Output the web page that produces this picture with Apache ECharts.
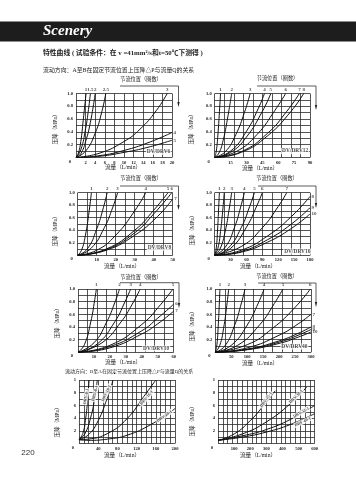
<!DOCTYPE html>
<html>
<head>
<meta charset="utf-8">
<style>
  html, body { margin: 0; padding: 0; background: #fff; }
  #chart { width: 356px; height: 480px; }
</style>
<script src="https://cdn.jsdelivr.net/npm/echarts@6/dist/echarts.min.js"></script>
</head>
<body>
<div id="chart"></div>
<script>
// values: each curve is a list of [flow, pressure]
const drv6Labels = ['1', '1.5', '2', '2.5', '3', '4', '5'];
const drv6Ticks = [2, 4, 6, 8, 10, 12, 14, 16, 18, 20];
const drv6Curves = [
  [[0, 0], [0.5, 0.07], [1, 0.25], [1.5, 0.58], [2.1, 1]],
  [[0, 0], [1, 0.12], [2, 0.45], [2.6, 0.75], [3, 1]],
  [[0, 0], [1, 0.06], [2, 0.25], [3, 0.55], [4, 1]],
  [[0, 0], [2, 0.1], [4, 0.38], [5.4, 0.72], [6.2, 1]],
  [[0, 0], [5, 0.07], [10, 0.25], [13.3, 0.44], [16.7, 0.73], [19, 1]],
  [[0, 0], [5, 0.03], [10, 0.11], [15, 0.23], [20, 0.39]],
  [[0, 0], [5, 0.02], [10, 0.08], [15, 0.16], [20, 0.27]]
];
const drv12Labels = ['1', '2', '3', '4', '5', '6', '7', '8'];
const drv12Ticks = [15, 30, 45, 60, 75, 90];
const drv12Curves = [
  [[0, 0], [1.5, 0.1], [3, 0.35], [4.5, 0.72], [5.5, 1]],
  [[0, 0], [4, 0.07], [8, 0.27], [12, 0.6], [16, 1]],
  [[0, 0], [10, 0.09], [20, 0.36], [28, 0.7], [33.5, 1]],
  [[0, 0], [15, 0.1], [30, 0.41], [41, 0.76], [47, 1]],
  [[0, 0], [15, 0.08], [30, 0.32], [45, 0.72], [53, 1]],
  [[0, 0], [20, 0.09], [40, 0.36], [57, 0.74], [67, 1]],
  [[0, 0], [25, 0.09], [50, 0.38], [68, 0.72], [80, 1]],
  [[0, 0], [25, 0.08], [50, 0.34], [72, 0.72], [84, 1]]
];
const drv8Labels = ['1', '2', '3', '4', '5', '6', '7'];
const drv8Ticks = [10, 20, 30, 40, 50];
const drv8Curves = [
  [[0, 0], [2, 0.08], [4, 0.31], [6, 0.7], [7.2, 1]],
  [[0, 0], [5, 0.1], [10, 0.42], [13.5, 0.76], [15.5, 1]],
  [[0, 0], [7, 0.11], [14, 0.44], [18.5, 0.77], [21, 1]],
  [[0, 0], [10, 0.08], [20, 0.32], [30, 0.71], [35.8, 1]],
  [[0, 0], [15, 0.1], [30, 0.4], [40, 0.72], [47.5, 1]],
  [[0, 0], [15, 0.09], [30, 0.36], [40, 0.66], [49.5, 1]],
  [[0, 0], [15, 0.08], [30, 0.32], [42, 0.62], [50, 0.9]]
];
const drv16Labels = ['1', '2', '3', '4', '5', '6', '7', '8', '9', '10'];
const drv16Ticks = [30, 60, 90, 120, 150, 180];
const drv16Curves = [
  [[0, 0], [3, 0.12], [5.5, 0.42], [7.5, 0.76], [8.8, 1]],
  [[0, 0], [6, 0.11], [11, 0.38], [15, 0.7], [18, 1]],
  [[0, 0], [10, 0.1], [20, 0.39], [27, 0.72], [32, 1]],
  [[0, 0], [20, 0.13], [38, 0.46], [49, 0.77], [56, 1]],
  [[0, 0], [25, 0.11], [50, 0.44], [66, 0.78], [75, 1]],
  [[0, 0], [30, 0.11], [60, 0.45], [80, 0.8], [90, 1]],
  [[0, 0], [50, 0.14], [90, 0.44], [120, 0.78], [136, 1]],
  [[0, 0], [50, 0.08], [100, 0.31], [145, 0.62], [180, 0.94]],
  [[0, 0], [50, 0.06], [100, 0.25], [145, 0.5], [180, 0.76]],
  [[0, 0], [50, 0.05], [100, 0.21], [145, 0.43], [180, 0.66]]
];
const drv10Labels = ['1', '2', '3', '4', '5', '6', '7'];
const drv10Ticks = [10, 20, 30, 40, 50, 60];
const drv10Curves = [
  [[0, 0], [4, 0.12], [8, 0.48], [10.5, 0.83], [11.5, 1]],
  [[0, 0], [10, 0.15], [18, 0.48], [23, 0.78], [26, 1]],
  [[0, 0], [12, 0.13], [23, 0.48], [29.5, 0.8], [33, 1]],
  [[0, 0], [15, 0.15], [27, 0.48], [34, 0.76], [39, 1]],
  [[0, 0], [20, 0.11], [40, 0.44], [52, 0.76], [59.5, 1]],
  [[0, 0], [20, 0.09], [40, 0.34], [50, 0.54], [60, 0.76]],
  [[0, 0], [20, 0.07], [40, 0.29], [50, 0.45], [60, 0.65]]
];
const drv40Labels = ['1', '2', '3', '4', '5', '6', '7', '8', '9', '10'];
const drv40Ticks = [50, 100, 150, 200, 250, 300];
const drv40Curves = [
  [[0, 0], [5, 0.12], [9, 0.4], [12.5, 0.76], [14.5, 1]],
  [[0, 0], [14, 0.11], [26, 0.38], [36, 0.74], [42, 1]],
  [[0, 0], [30, 0.1], [60, 0.42], [82, 0.78], [93, 1]],
  [[0, 0], [50, 0.11], [100, 0.43], [135, 0.78], [153, 1]],
  [[0, 0], [70, 0.11], [140, 0.44], [185, 0.77], [212, 1]],
  [[0, 0], [100, 0.12], [180, 0.38], [250, 0.71], [298, 1]],
  [[0, 0], [100, 0.07], [200, 0.27], [260, 0.45], [300, 0.6]],
  [[0, 0], [100, 0.05], [200, 0.18], [260, 0.3], [300, 0.4]],
  [[0, 0], [100, 0.045], [200, 0.16], [260, 0.27], [300, 0.36]],
  [[0, 0], [100, 0.04], [200, 0.14], [260, 0.24], [300, 0.32]]
];
const smallTicks = [40, 80, 120, 160, 200];
const smallCurves = [
  [[0, 0.6], [8, 1.6], [14, 4], [18, 7], [21, 10]],
  [[0, 0.6], [12, 1.5], [24, 4], [33, 7.2], [38, 10]],
  [[0, 0.6], [20, 1.4], [40, 3.6], [58, 7], [71, 10]],
  [[0, 0.6], [20, 0.7], [60, 1.6], [100, 3.9], [135, 7.4], [160, 10]],
  [[0, 0.6], [20, 0.5], [60, 0.7], [100, 1.3], [150, 3], [200, 5.5]]
];
const smallTags = [['DRV-6-1', 14.5, 7.4, 80], ['DRV-8-1', 33, 7.9, 75], ['DRV-10-1', 57, 7.9, 65], ['DRV-16-1', 141, 7.2, 50], ['DRV-20-1', 178, 4.3, 35]];
const largeTicks = [100, 200, 300, 400, 500, 600];
const largeCurves = [
  [[0, 0.5], [100, 1.5], [200, 3.6], [290, 6.2], [355, 8.3]],
  [[0, 0.5], [150, 1.5], [300, 3.4], [450, 6.3], [550, 8.9]],
  [[0, 0.5], [150, 1.2], [300, 2.2], [450, 3.8], [600, 6]],
  [[0, 0.5], [150, 1], [300, 1.8], [450, 3], [600, 4.7]]
];
const largeTags = [['DRV-25-1', 298, 6.9, 55], ['DRV-30-1', 484, 7.4, 45], ['DRV-32-1', 515, 4.9, 30], ['DRV-40-1', 526, 3.4, 25]];
const smallPressureTicks = { 2: '2', 4: '4', 6: '6', 8: '8', 10: '1' };

const serif = '"Liberation Serif", serif';
const cjk = '"Liberation Serif", "Noto Sans CJK SC", sans-serif';
const ink = '#222';

// one entry per plot, box is left, top, right, bottom in page pixels
const plots = [
  { box: [76, 93.5, 172, 157.5], xMax: 20, cell: 2, ticks: drv6Ticks, labels: drv6Labels, curves: drv6Curves, tag: ['DV/DRV6', 17.2, 0.09] },
  { box: [214.7, 93.5, 310, 157.5], xMax: 90, cell: 9, ticks: drv12Ticks, labels: drv12Labels, curves: drv12Curves, tag: ['DV/DRV12', 76, 0.1] },
  { box: [77.7, 192.7, 172.7, 255.3], xMax: 50, cell: 5, ticks: drv8Ticks, labels: drv8Labels, curves: drv8Curves, tag: ['DV/DRV8', 43, 0.12] },
  { box: [214.7, 192.7, 310, 255.3], xMax: 180, cell: 18, ticks: drv16Ticks, labels: drv16Labels, curves: drv16Curves, tag: ['DV/DRV16', 156, 0.06] },
  { box: [78, 289, 173.7, 352.3], xMax: 60, cell: 6, ticks: drv10Ticks, labels: drv10Labels, curves: drv10Curves, tag: ['DV/DRV10', 49, 0.06] },
  { box: [215.3, 289, 311, 352.3], xMax: 300, cell: 30, ticks: drv40Ticks, labels: drv40Labels, curves: drv40Curves, tag: ['DV/DRV40', 248, 0.09] },
  { box: [79, 380, 175, 443.5], xMax: 200, cell: 10, ticks: smallTicks, yMax: 10, yCell: 1, curves: smallCurves, tags: smallTags },
  { box: [218, 380, 314.7, 443.5], xMax: 600, cell: 30, ticks: largeTicks, yMax: 10, yCell: 1, curves: largeCurves, tags: largeTags }
];

const grid = [], xAxis = [], yAxis = [], series = [];

plots.forEach((p, i) => {
  const [l, t, r, b] = p.box;
  const yMax = p.yMax || 1;
  grid.push({ left: l, top: t, width: r - l, height: b - t });
  const lineStyle = { color: '#2a2a2a', width: 0.8 };
  xAxis.push({
    gridIndex: i, type: 'value', min: 0, max: p.xMax, interval: p.cell,
    axisLine: { show: false }, axisTick: { show: false },
    splitLine: { show: true, lineStyle },
    axisLabel: {
      margin: 2.5, fontSize: 4.6, fontFamily: serif, fontWeight: 'bold', color: ink,
      customValues: p.ticks
    }
  });
  yAxis.push({
    gridIndex: i, type: 'value', min: 0, max: yMax, interval: p.yCell || 0.1,
    axisLine: { show: false }, axisTick: { show: false },
    splitLine: { show: true, lineStyle },
    axisLabel: {
      margin: 3, fontSize: 4.6, fontFamily: serif, fontWeight: 'bold', color: ink,
      formatter: v => {
        if (p.yMax) return smallPressureTicks[v] || '';
        return (v !== 0 && Math.round(v * 10) % 2 === 0) ? v.toFixed(1) : '';
      }
    }
  });
  p.curves.forEach(data => {
    series.push({
      type: 'line', xAxisIndex: i, yAxisIndex: i,
      data, smooth: 0.5, showSymbol: false, silent: true,
      lineStyle: { color: '#111', width: 1 }
    });
  });
  // curve numbers sit above the top edge or just past the right edge
  if (p.labels) {
    series.push({
      type: 'scatter', xAxisIndex: i, yAxisIndex: i, symbolSize: 0, silent: true, clip: false,
      data: p.curves.map((data, k) => {
        const last = data[data.length - 1];
        return {
          value: last,
          label: {
            show: true, formatter: p.labels[k], position: last[1] >= yMax ? 'top' : 'right', distance: 1.5,
            color: ink, fontSize: 5, fontFamily: serif, fontWeight: 'bold'
          }
        };
      })
    });
  }
  // white boxed names sitting on the grid
  const tags = p.tag ? [[...p.tag, 0]] : p.tags;
  series.push({
    type: 'scatter', xAxisIndex: i, yAxisIndex: i, symbolSize: 0, silent: true, z: 5,
    data: tags.map(tag => ({
      value: [tag[1], tag[2]],
      label: {
        show: true, position: 'inside', formatter: tag[0], rotate: tag[3], color: ink,
        fontSize: p.tag ? 5.4 : 4.2, fontFamily: serif, fontWeight: 'bold',
        backgroundColor: '#fff', padding: [0.5, 1]
      }
    }))
  });
});

function text(x, y, str, size, extra) {
  return {
    type: 'text', x, y, silent: true,
    style: Object.assign({ text: str, fontSize: size, fontFamily: cjk, fill: ink, textAlign: 'center', textVerticalAlign: 'middle' }, extra)
  };
}
function bracket(x1, x2, y, yEnd) {
  return [
    { type: 'polyline', silent: true, shape: { points: [[x1, y], [x2, y], [x2, yEnd - 4]] }, style: { stroke: '#333', lineWidth: 0.8, fill: 'none' } },
    { type: 'polygon', silent: true, shape: { points: [[x2 - 1.2, yEnd - 5], [x2 + 1.2, yEnd - 5], [x2, yEnd]] }, style: { fill: '#222' } }
  ];
}

const graphic = [
  { type: 'rect', silent: true, shape: { x: 0, y: 21.5, width: 356, height: 20 }, style: { fill: '#1d1d1d' } },
  text(43, 31.5, 'Scenery', 15, { fontFamily: serif, fontStyle: 'italic', fontWeight: 'bold', fill: '#fff', textAlign: 'left' }),
  text(43, 53, '特性曲线 ( 试验条件：在 v =41mm²/s和t=50℃下测得 )', 6.8, { textAlign: 'left', fontWeight: 'bold' }),
  text(43, 70, '流动方向：A至B在固定节流位置上压降△P与流量Q的关系', 5.9, { textAlign: 'left' }),
  text(65, 372, '流动方向：B至A在固定节流位置上压降△P与流量Q的关系', 5, { textAlign: 'left' }),
  text(28, 452.5, '220', 8, { fontFamily: '"Liberation Sans", sans-serif', fill: '#333' })
];

// section headers with their bracket and arrow
[[141, 120, 178.5, 79.5, 86, 107], [277.5, 257, 316, 79, 86, 110],
 [141, 120, 178.5, 179, 186, 210], [277, 258, 316, 178.7, 186, 208],
 [141, 120, 179, 277.3, 282.7, 308], [277, 258, 316, 276.7, 283, 307]].forEach(h => {
  graphic.push(text(h[0], h[3], '节流位置（圈数）', 5.2));
  graphic.push(...bracket(h[1], h[2], h[4], h[5]));
});

// axis names and the lone 0 in each corner
const yNames = [[56, 128], [192, 128], [56, 230], [193, 229], [58, 322], [193, 325], [58, 421], [193, 420]];
const xNames = [[123, 168], [260, 168.5], [122, 267], [258, 267], [123, 363], [260, 364], [122, 456], [258, 456]];
plots.forEach((p, i) => {
  graphic.push(text(yNames[i][0], yNames[i][1], '压降（MPa）', 5.6, { }));
  graphic[graphic.length - 1].rotation = Math.PI / 2;
  graphic.push(text(xNames[i][0], xNames[i][1], '流量（L/min）', 5.6));
  graphic.push(text(p.box[0] - 6, p.box[3] + 4, '0', 4.6, { fontFamily: serif, fontWeight: 'bold' }));
});

const chart = echarts.init(document.getElementById('chart'), null, { renderer: 'canvas' });
chart.setOption({ animation: false, backgroundColor: '#fff', grid, xAxis, yAxis, series, graphic });
</script>
</body>
</html>
